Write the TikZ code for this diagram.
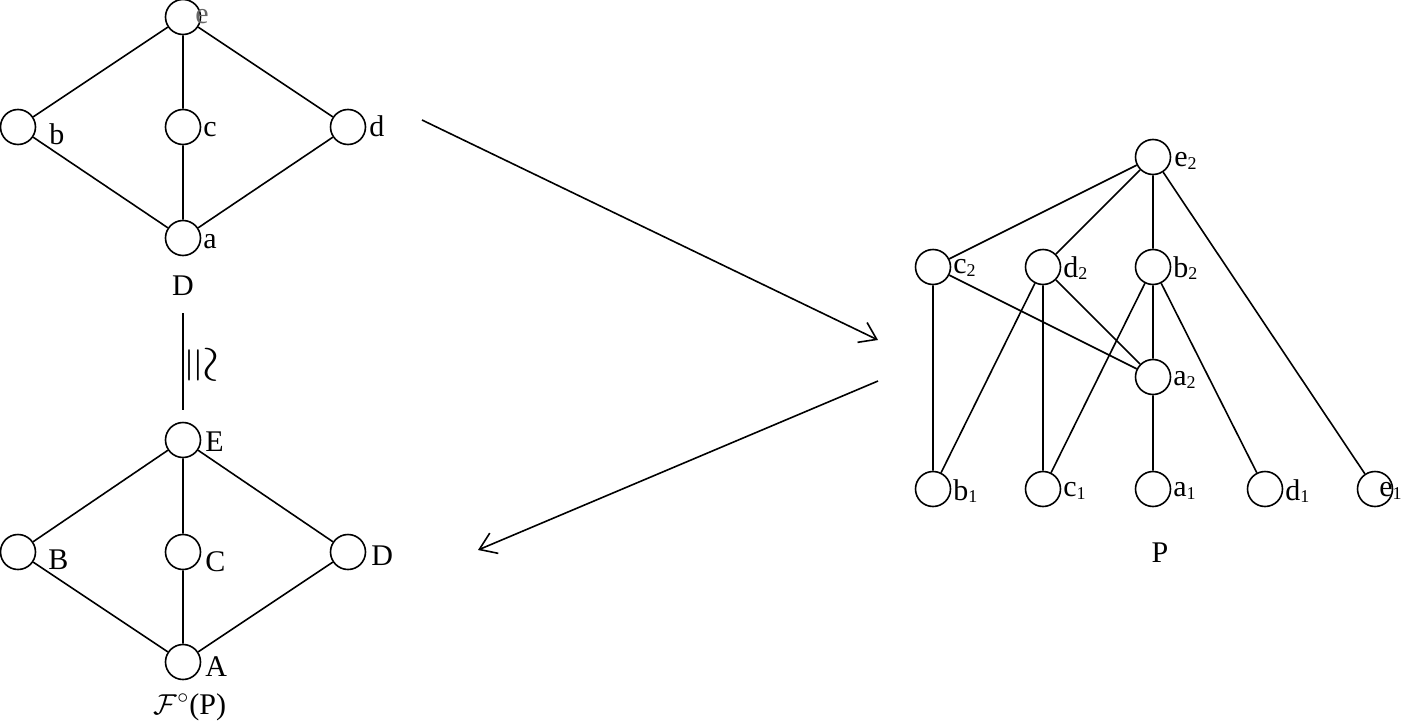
\documentclass[tikz,border=0pt]{standalone}
\usepackage{fontspec}
\setmainfont{Liberation Serif}
\usetikzlibrary{arrows.meta}
\newcommand{\sbs}[1]{\raisebox{-0.2ex}{\fontsize{9}{9}\selectfont #1}}
\begin{document}
\begin{tikzpicture}[x=0.5pt,y=-0.5pt,
  v/.style={circle,draw,line width=0.8pt,minimum size=17.5pt,inner sep=0pt},
  lb/.style={font=\fontsize{15}{15}\selectfont,anchor=west,inner sep=1pt},
  ed/.style={line width=0.8pt},
  ar/.style={line width=0.8pt,-{Straight Barb[length=8pt,width=11pt]}}]
\useasboundingbox (0,0) rectangle (1403,728);
% top lattice
\node[v] (e) at (183,17) {}; \node[lb,text=black!60] at (193,17) {e};
\node[v] (b) at (18,127) {}; \node[lb] at (47,134) {b};
\node[v] (c) at (183,127) {}; \node[lb] at (201,130) {c};
\node[v] (d) at (348,127) {}; \node[lb] at (367,126) {d};
\node[v] (a) at (183,238) {}; \node[lb] at (201,242) {a};
\draw[ed] (e)--(b) (e)--(c) (e)--(d) (b)--(a) (c)--(a) (d)--(a);
\node[font=\fontsize{15}{15}\selectfont] (Dl) at (183,286) {D};
% iso
\coordinate (i1) at (183,313); \coordinate (i2) at (183,410);
\draw[ed] (i1)--(i2);
\node[rotate=-90,font=\fontsize{26}{26}\selectfont,inner sep=0pt] (iso) at (199,365) {$\cong$};
% bottom lattice
\node[v] (E) at (183,440) {}; \node[lb] at (203,442) {E};
\node[v] (B) at (18,552) {}; \node[lb] at (46,560) {B};
\node[v] (C) at (183,552) {}; \node[lb] at (203,562) {C};
\node[v] (Dn) at (348,552) {}; \node[lb] at (369,556) {D};
\node[v] (A) at (183,662) {}; \node[lb] at (203,667) {A};
\draw[ed] (E)--(B) (E)--(C) (E)--(Dn) (B)--(A) (C)--(A) (Dn)--(A);
\node[font=\fontsize{15}{15}\selectfont] (Fl) at (190,707) {$\mathcal{F}^{\circ}$(P)};
% arrows
\coordinate (p1) at (422,120); \coordinate (p2) at (878,340);
\coordinate (q1) at (878,381); \coordinate (q2) at (478,550);
\draw[ar] (p1)--(p2);
\draw[ar] (q1)--(q2);
% P
\node[v] (e2) at (1153,157) {}; \node[lb] at (1172,161) {e\sbs{2}};
\node[v] (c2) at (933,267) {}; \node[lb] at (951,268) {c\sbs{2}};
\node[v] (d2) at (1043,267) {}; \node[lb] at (1061,268) {d\sbs{2}};
\node[v] (b2) at (1153,267) {}; \node[lb] at (1171,268) {b\sbs{2}};
\node[v] (a2) at (1153,377) {}; \node[lb] at (1171,380) {a\sbs{2}};
\node[v] (b1) at (933,489) {}; \node[lb] at (951,491) {b\sbs{1}};
\node[v] (c1) at (1043,489) {}; \node[lb] at (1061,491) {c\sbs{1}};
\node[v] (a1) at (1153,489) {}; \node[lb] at (1171,491) {a\sbs{1}};
\node[v] (d1) at (1265,489) {}; \node[lb] at (1283,491) {d\sbs{1}};
\node[v] (e1) at (1375,489) {}; \node[lb,anchor=east,inner sep=0pt] at (1402,491) {e\sbs{1}};
\draw[ed] (e2)--(c2) (e2)--(d2) (e2)--(b2) (e2)--(e1)
  (c2)--(b1) (c2)--(a2) (d2)--(b1) (d2)--(c1) (d2)--(a2)
  (b2)--(c1) (b2)--(a2) (b2)--(d1) (a2)--(a1);
\node[font=\fontsize{15}{15}\selectfont] (Pl) at (1160,553) {P};
\end{tikzpicture}
\end{document}
